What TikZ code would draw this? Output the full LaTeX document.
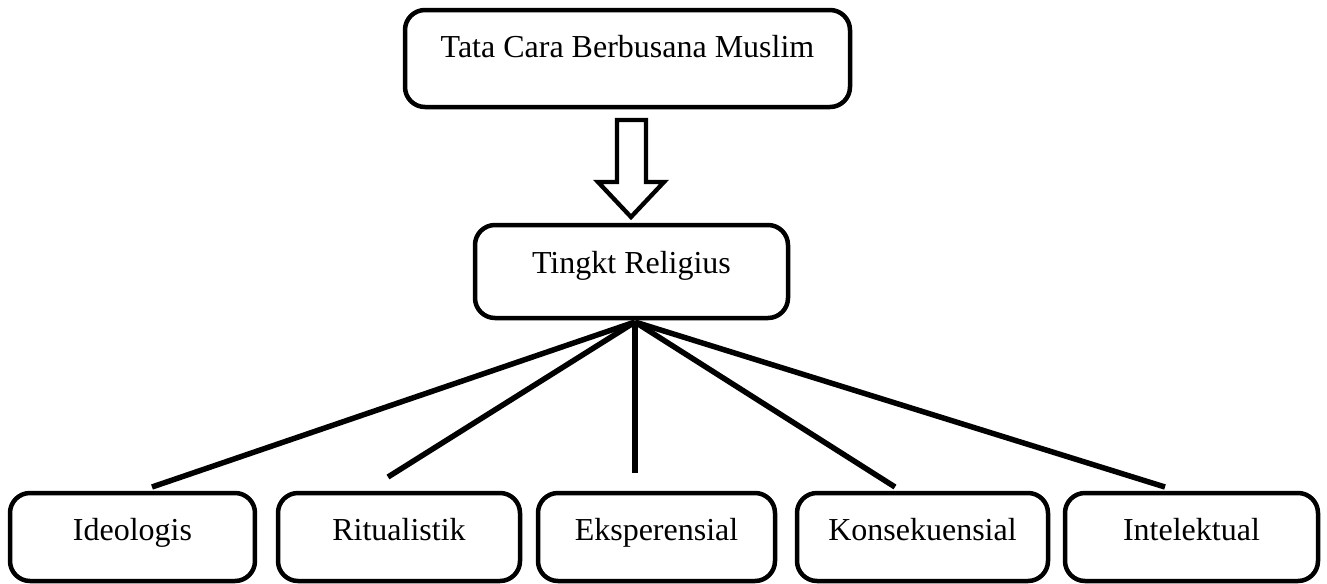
\documentclass[tikz,border=0pt]{standalone}
\usepackage{fontspec}
\setmainfont{Liberation Serif}
\tikzset{
  box/.style={draw, rounded corners=6pt, line width=1.35pt, inner xsep=0pt, inner ysep=0pt,
    text height=14.1pt, font=\fontsize{9.6}{11}\selectfont},
  link/.style={line width=1.65pt},
  blockarrow/.style={draw, fill=white, line width=1.3pt, line join=miter}
}
\begin{document}
\begin{tikzpicture}[x=0.3pt,y=-0.3pt]
\useasboundingbox (0,0) rectangle (1327,583);
% boxes
\node[box, minimum width=133.5pt, text depth=15pt] (cara) at (627.5,58.5) {Tata Cara Berbusana Muslim};
\node[box, minimum width=93.9pt, text height=14.4pt, text depth=13.5pt] (religius) at (631.5,271.5) {Tingkt Religius};
\node[box, minimum width=73.5pt, text depth=12.3pt] (ideo) at (132.5,537) {Ideologis};
\node[box, minimum width=72.6pt, text depth=12.3pt] (ritual) at (399,537) {Ritualistik};
\node[box, minimum width=71.1pt, text depth=12.3pt] (eksp) at (656.5,537) {Eksperensial};
\node[box, minimum width=75.3pt, text depth=12.3pt] (kons) at (922.5,537) {Konsekuensial};
\node[box, minimum width=75.9pt, text depth=12.3pt] (intel) at (1191.5,537) {Intelektual};
% block arrow
\draw[blockarrow] (617,120) -- (646,120) -- (646,182) -- (664,182) -- (631,217)
  -- (598,182) -- (617,182) -- cycle;
% fan
\coordinate (hub) at (635,322);
\coordinate (e1) at (152,487);
\coordinate (e2) at (388,477);
\coordinate (e3) at (635,473);
\coordinate (e4) at (895,487);
\coordinate (e5) at (1165,487);
\foreach \e in {e1,e2,e3,e4,e5}
  \draw[link] (hub) -- (\e);
\end{tikzpicture}
\end{document}
